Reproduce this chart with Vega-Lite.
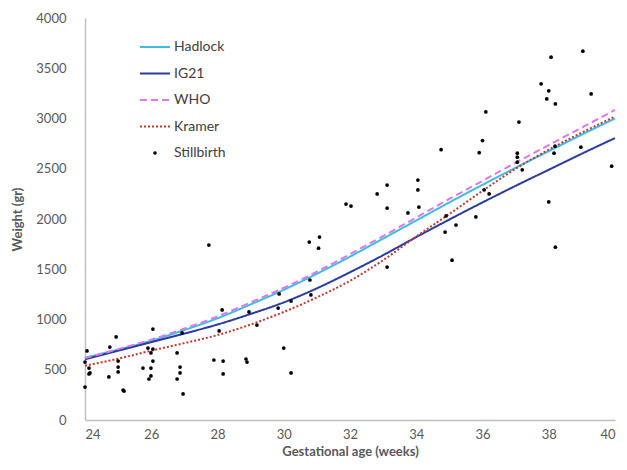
{
  "$schema": "https://vega.github.io/schema/vega-lite/v6.json",
  "width": 530,
  "height": 402,
  "autosize": "none",
  "padding": {"left": 85, "top": 18, "right": 12, "bottom": 50},
  "background": "white",
  "config": {
    "view": {"stroke": null},
    "font": "Lato",
    "axis": {"labelFont": "Lato", "titleFont": "Lato", "labelColor": "#595959", "titleColor": "#595959", "domainColor": "#bfbfbf", "domainWidth": 1.5, "ticks": false, "grid": false, "labelFontSize": 13, "titleFontSize": 13}
  },
  "datasets": {
    "curves": [
      {"s": "Hadlock", "w": 24, "v": 620}, {"s": "Hadlock", "w": 25, "v": 700}, {"s": "Hadlock", "w": 26, "v": 789}, {"s": "Hadlock", "w": 27, "v": 895}, {"s": "Hadlock", "w": 28, "v": 1012}, {"s": "Hadlock", "w": 29, "v": 1150}, {"s": "Hadlock", "w": 30, "v": 1295}, {"s": "Hadlock", "w": 31, "v": 1455}, {"s": "Hadlock", "w": 32, "v": 1625}, {"s": "Hadlock", "w": 33, "v": 1805}, {"s": "Hadlock", "w": 34, "v": 1985}, {"s": "Hadlock", "w": 35, "v": 2165}, {"s": "Hadlock", "w": 36, "v": 2340}, {"s": "Hadlock", "w": 37, "v": 2510}, {"s": "Hadlock", "w": 38, "v": 2675}, {"s": "Hadlock", "w": 39, "v": 2840}, {"s": "Hadlock", "w": 40, "v": 3000},
      {"s": "IG21", "w": 24, "v": 605}, {"s": "IG21", "w": 25, "v": 690}, {"s": "IG21", "w": 26, "v": 775}, {"s": "IG21", "w": 27, "v": 860}, {"s": "IG21", "w": 28, "v": 950}, {"s": "IG21", "w": 29, "v": 1055}, {"s": "IG21", "w": 30, "v": 1170}, {"s": "IG21", "w": 31, "v": 1310}, {"s": "IG21", "w": 32, "v": 1470}, {"s": "IG21", "w": 33, "v": 1640}, {"s": "IG21", "w": 34, "v": 1820}, {"s": "IG21", "w": 35, "v": 1995}, {"s": "IG21", "w": 36, "v": 2165}, {"s": "IG21", "w": 37, "v": 2330}, {"s": "IG21", "w": 38, "v": 2490}, {"s": "IG21", "w": 39, "v": 2650}, {"s": "IG21", "w": 40, "v": 2805},
      {"s": "WHO", "w": 24, "v": 615}, {"s": "WHO", "w": 25, "v": 705}, {"s": "WHO", "w": 26, "v": 800}, {"s": "WHO", "w": 27, "v": 910}, {"s": "WHO", "w": 28, "v": 1030}, {"s": "WHO", "w": 29, "v": 1170}, {"s": "WHO", "w": 30, "v": 1315}, {"s": "WHO", "w": 31, "v": 1475}, {"s": "WHO", "w": 32, "v": 1650}, {"s": "WHO", "w": 33, "v": 1830}, {"s": "WHO", "w": 34, "v": 2015}, {"s": "WHO", "w": 35, "v": 2200}, {"s": "WHO", "w": 36, "v": 2380}, {"s": "WHO", "w": 37, "v": 2560}, {"s": "WHO", "w": 38, "v": 2735}, {"s": "WHO", "w": 39, "v": 2910}, {"s": "WHO", "w": 40, "v": 3085},
      {"s": "Kramer", "w": 24, "v": 540}, {"s": "Kramer", "w": 25, "v": 610}, {"s": "Kramer", "w": 26, "v": 690}, {"s": "Kramer", "w": 27, "v": 765}, {"s": "Kramer", "w": 28, "v": 845}, {"s": "Kramer", "w": 29, "v": 950}, {"s": "Kramer", "w": 30, "v": 1075}, {"s": "Kramer", "w": 31, "v": 1220}, {"s": "Kramer", "w": 32, "v": 1385}, {"s": "Kramer", "w": 33, "v": 1590}, {"s": "Kramer", "w": 34, "v": 1825}, {"s": "Kramer", "w": 35, "v": 2050}, {"s": "Kramer", "w": 36, "v": 2280}, {"s": "Kramer", "w": 37, "v": 2500}, {"s": "Kramer", "w": 38, "v": 2690}, {"s": "Kramer", "w": 39, "v": 2860}, {"s": "Kramer", "w": 40, "v": 3020}
    ],
    "points": [
      {"s": "Stillbirth", "w": 24.06, "v": 687}, {"s": "Stillbirth", "w": 24.75, "v": 726}, {"s": "Stillbirth", "w": 24.94, "v": 826}, {"s": "Stillbirth", "w": 26.05, "v": 905}, {"s": "Stillbirth", "w": 25.9, "v": 716}, {"s": "Stillbirth", "w": 26.05, "v": 706}, {"s": "Stillbirth", "w": 26.78, "v": 667}, {"s": "Stillbirth", "w": 24.0, "v": 577}, {"s": "Stillbirth", "w": 25.0, "v": 587}, {"s": "Stillbirth", "w": 25.99, "v": 667}, {"s": "Stillbirth", "w": 26.05, "v": 587}, {"s": "Stillbirth", "w": 24.12, "v": 517}, {"s": "Stillbirth", "w": 25.0, "v": 527}, {"s": "Stillbirth", "w": 25.75, "v": 517}, {"s": "Stillbirth", "w": 25.99, "v": 517}, {"s": "Stillbirth", "w": 26.87, "v": 527}, {"s": "Stillbirth", "w": 24.12, "v": 458}, {"s": "Stillbirth", "w": 24.15, "v": 468}, {"s": "Stillbirth", "w": 25.0, "v": 478}, {"s": "Stillbirth", "w": 25.99, "v": 438}, {"s": "Stillbirth", "w": 26.87, "v": 468}, {"s": "Stillbirth", "w": 24.72, "v": 428}, {"s": "Stillbirth", "w": 25.93, "v": 408}, {"s": "Stillbirth", "w": 26.78, "v": 408}, {"s": "Stillbirth", "w": 24.0, "v": 328}, {"s": "Stillbirth", "w": 25.15, "v": 298}, {"s": "Stillbirth", "w": 25.18, "v": 288}, {"s": "Stillbirth", "w": 26.96, "v": 259},
      {"s": "Stillbirth", "w": 27.74, "v": 1741}, {"s": "Stillbirth", "w": 28.14, "v": 1095}, {"s": "Stillbirth", "w": 28.95, "v": 1075}, {"s": "Stillbirth", "w": 29.86, "v": 1254}, {"s": "Stillbirth", "w": 30.22, "v": 1184}, {"s": "Stillbirth", "w": 29.83, "v": 1114}, {"s": "Stillbirth", "w": 30.79, "v": 1393}, {"s": "Stillbirth", "w": 28.05, "v": 886}, {"s": "Stillbirth", "w": 29.19, "v": 945}, {"s": "Stillbirth", "w": 26.93, "v": 866}, {"s": "Stillbirth", "w": 30.0, "v": 716}, {"s": "Stillbirth", "w": 27.89, "v": 597}, {"s": "Stillbirth", "w": 28.17, "v": 587}, {"s": "Stillbirth", "w": 28.86, "v": 607}, {"s": "Stillbirth", "w": 28.89, "v": 577}, {"s": "Stillbirth", "w": 28.17, "v": 458}, {"s": "Stillbirth", "w": 30.22, "v": 468},
      {"s": "Stillbirth", "w": 30.77, "v": 1770}, {"s": "Stillbirth", "w": 31.08, "v": 1820}, {"s": "Stillbirth", "w": 31.05, "v": 1710}, {"s": "Stillbirth", "w": 30.82, "v": 1244},
      {"s": "Stillbirth", "w": 33.12, "v": 2338}, {"s": "Stillbirth", "w": 34.05, "v": 2388}, {"s": "Stillbirth", "w": 34.05, "v": 2289}, {"s": "Stillbirth", "w": 32.82, "v": 2249}, {"s": "Stillbirth", "w": 31.88, "v": 2149}, {"s": "Stillbirth", "w": 32.03, "v": 2129}, {"s": "Stillbirth", "w": 33.12, "v": 2109}, {"s": "Stillbirth", "w": 33.75, "v": 2060}, {"s": "Stillbirth", "w": 34.08, "v": 2119}, {"s": "Stillbirth", "w": 33.12, "v": 1522},
      {"s": "Stillbirth", "w": 34.75, "v": 2690}, {"s": "Stillbirth", "w": 34.87, "v": 1870}, {"s": "Stillbirth", "w": 35.2, "v": 1940}, {"s": "Stillbirth", "w": 35.08, "v": 1590}, {"s": "Stillbirth", "w": 34.9, "v": 2030}, {"s": "Stillbirth", "w": 35.8, "v": 2020}, {"s": "Stillbirth", "w": 35.9, "v": 2660}, {"s": "Stillbirth", "w": 36.0, "v": 2780}, {"s": "Stillbirth", "w": 36.1, "v": 3065}, {"s": "Stillbirth", "w": 36.05, "v": 2290}, {"s": "Stillbirth", "w": 36.2, "v": 2250},
      {"s": "Stillbirth", "w": 37.1, "v": 2965}, {"s": "Stillbirth", "w": 37.05, "v": 2655}, {"s": "Stillbirth", "w": 37.05, "v": 2615}, {"s": "Stillbirth", "w": 37.05, "v": 2565}, {"s": "Stillbirth", "w": 37.2, "v": 2490}, {"s": "Stillbirth", "w": 37.77, "v": 3345}, {"s": "Stillbirth", "w": 38.0, "v": 3275}, {"s": "Stillbirth", "w": 37.94, "v": 3195}, {"s": "Stillbirth", "w": 38.2, "v": 3145}, {"s": "Stillbirth", "w": 38.07, "v": 3610}, {"s": "Stillbirth", "w": 39.03, "v": 3670}, {"s": "Stillbirth", "w": 39.28, "v": 3245}, {"s": "Stillbirth", "w": 38.19, "v": 2725}, {"s": "Stillbirth", "w": 38.16, "v": 2655}, {"s": "Stillbirth", "w": 38.97, "v": 2715}, {"s": "Stillbirth", "w": 39.9, "v": 2525}, {"s": "Stillbirth", "w": 38.0, "v": 2170}, {"s": "Stillbirth", "w": 38.2, "v": 1720}
    ]
  },
  "encoding": {
    "x": {"field": "w", "type": "quantitative", "scale": {"domain": [24, 40], "nice": false, "zero": false}, "axis": {"values": [24, 26, 28, 30, 32, 34, 36, 38, 40], "format": "d", "title": "Gestational age (weeks)", "labelPadding": 8, "titlePadding": 4}},
    "y": {"field": "v", "type": "quantitative", "scale": {"domain": [0, 4000], "nice": false}, "axis": {"values": [0, 500, 1000, 1500, 2000, 2500, 3000, 3500, 4000], "format": "d", "title": "Weight (gr)", "labelPadding": 19, "titlePadding": 11}}
  },
  "layer": [
    {
      "data": {"name": "curves"},
      "mark": {"type": "line", "interpolate": "monotone", "strokeWidth": 2},
      "encoding": {
        "color": {"field": "s", "type": "nominal", "scale": {"domain": ["Hadlock", "IG21", "WHO", "Kramer", "Stillbirth"], "range": ["#3bbde6", "#2a3c9e", "#dc78ea", "#c0392b", "#000000"]},
          "legend": {"title": null, "orient": "none", "legendX": 54, "legendY": 13, "labelFontSize": 14, "labelColor": "#404040", "labelFont": "Lato", "symbolSize": 900, "symbolStrokeWidth": 2, "rowPadding": 3.5, "labelOffset": 3,
            "encode": {"symbols": {"update": {
              "shape": {"signal": "datum.value === 'Stillbirth' ? 'M -0.05,0 A 0.05,0.05 0 1,1 0.05,0 A 0.05,0.05 0 1,1 -0.05,0 Z' : 'stroke'"},
              "fill": {"signal": "datum.value === 'Stillbirth' ? '#000000' : 'transparent'"}
            }}}}},
        "strokeDash": {"field": "s", "type": "nominal", "scale": {"domain": ["Hadlock", "IG21", "WHO", "Kramer", "Stillbirth"], "range": [[1, 0], [1, 0], [7, 4], [2, 2], [1, 0]]}, "legend": null}
      }
    },
    {
      "data": {"name": "points"},
      "mark": {"type": "point", "filled": true, "size": 14, "opacity": 1, "shape": "circle"},
      "encoding": {
        "color": {"field": "s", "type": "nominal"}
      }
    }
  ]
}
